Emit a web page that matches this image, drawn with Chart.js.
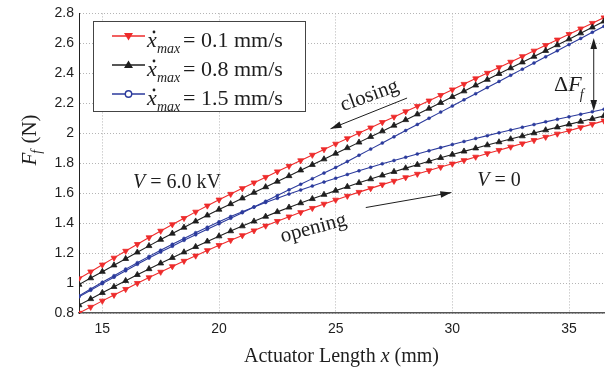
<!DOCTYPE html>
<html lang="en">
<head>
  <meta charset="UTF-8">
  <title>Friction force vs actuator length</title>
  <script src="https://cdn.jsdelivr.net/npm/chart.js"></script>
  <style>
    body {
      margin: 0;
      background: #ffffff;
    }
    canvas {
      display: block;
    }
  </style>
</head>
<body>
  <canvas id="frictionChart" width="611" height="371"></canvas>

  <script>
    // actuator length (mm), one sample every 0.5 mm
    const lengthMm = [14, 14.5, 15, 15.5, 16, 16.5, 17, 17.5, 18, 18.5, 19, 19.5, 20, 20.5, 21, 21.5,
      22, 22.5, 23, 23.5, 24, 24.5, 25, 25.5, 26, 26.5, 27, 27.5, 28, 28.5, 29, 29.5, 30, 30.5,
      31, 31.5, 32, 32.5, 33, 33.5, 34, 34.5, 35, 35.5, 36, 36.5];

    // friction force F_f (N), closing branch (V = 6.0 kV) and opening branch (V = 0)
    const closing01 = [1.030, 1.076, 1.122, 1.168, 1.214, 1.259, 1.304, 1.348, 1.391, 1.433, 1.475, 1.516,
      1.556, 1.594, 1.632, 1.670, 1.707, 1.744, 1.781, 1.818, 1.855, 1.892, 1.929, 1.965, 2.001, 2.037,
      2.073, 2.109, 2.145, 2.181, 2.217, 2.254, 2.291, 2.328, 2.365, 2.402, 2.439, 2.476, 2.513, 2.550,
      2.587, 2.624, 2.661, 2.698, 2.735, 2.772];
    const opening01 = [0.800, 0.840, 0.881, 0.920, 0.959, 0.999, 1.037, 1.074, 1.111, 1.147, 1.182, 1.218,
      1.252, 1.286, 1.318, 1.350, 1.382, 1.413, 1.443, 1.472, 1.500, 1.528, 1.555, 1.581, 1.607, 1.632,
      1.657, 1.681, 1.705, 1.728, 1.751, 1.774, 1.796, 1.819, 1.842, 1.865, 1.887, 1.909, 1.931, 1.953,
      1.975, 1.996, 2.017, 2.039, 2.061, 2.083];
    const closing08 = [0.990, 1.033, 1.076, 1.119, 1.162, 1.205, 1.248, 1.290, 1.331, 1.371, 1.412, 1.452,
      1.491, 1.528, 1.566, 1.604, 1.641, 1.678, 1.715, 1.753, 1.790, 1.827, 1.865, 1.902, 1.939, 1.977,
      2.014, 2.052, 2.089, 2.127, 2.165, 2.204, 2.243, 2.281, 2.320, 2.358, 2.397, 2.435, 2.474, 2.512,
      2.551, 2.589, 2.628, 2.668, 2.707, 2.747];
    const opening08 = [0.853, 0.894, 0.935, 0.975, 1.015, 1.055, 1.094, 1.132, 1.169, 1.206, 1.242, 1.278,
      1.313, 1.347, 1.380, 1.412, 1.444, 1.475, 1.505, 1.534, 1.562, 1.590, 1.617, 1.643, 1.669, 1.694,
      1.719, 1.743, 1.767, 1.790, 1.813, 1.836, 1.858, 1.879, 1.900, 1.921, 1.941, 1.961, 1.981, 2.001,
      2.021, 2.040, 2.059, 2.078, 2.097, 2.116];
    const closing15 = [0.908, 0.952, 0.996, 1.039, 1.082, 1.125, 1.167, 1.207, 1.246, 1.285, 1.322, 1.359,
      1.396, 1.433, 1.470, 1.508, 1.546, 1.584, 1.622, 1.659, 1.697, 1.734, 1.772, 1.812, 1.853, 1.894,
      1.935, 1.976, 2.018, 2.059, 2.100, 2.141, 2.182, 2.223, 2.264, 2.305, 2.346, 2.387, 2.428, 2.469,
      2.510, 2.551, 2.592, 2.633, 2.674, 2.714];
    const opening15 = [0.915, 0.960, 1.005, 1.049, 1.093, 1.136, 1.178, 1.219, 1.259, 1.298, 1.336, 1.373,
      1.409, 1.444, 1.476, 1.508, 1.538, 1.566, 1.594, 1.621, 1.648, 1.674, 1.700, 1.725, 1.749, 1.773,
      1.796, 1.818, 1.840, 1.862, 1.883, 1.904, 1.925, 1.945, 1.965, 1.984, 2.003, 2.022, 2.040, 2.058,
      2.076, 2.093, 2.110, 2.127, 2.144, 2.160];

    const speedLabels = ['0.1', '0.8', '1.5'];
    const xTicks = [15, 20, 25, 30, 35];
    const yTicks = [0.8, 1, 1.2, 1.4, 1.6, 1.8, 2, 2.2, 2.4, 2.6, 2.8];

    const RED = '#ee2b2b';
    const BLACK = '#1e1e1e';
    const BLUE = '#2b3a9c';
    const SERIF = '"Liberation Serif", "Times New Roman", serif';
    const SANS = '"Liberation Sans", Arial, sans-serif';

    function toPoints(values) {
      return values.map((v, i) => ({ x: lengthMm[i], y: v }));
    }

    function series(values, color, style) {
      const tri = style !== 'circle';
      return {
        data: toPoints(values),
        borderColor: color,
        backgroundColor: color,
        borderWidth: 1.1,
        pointStyle: tri ? 'triangle' : 'circle',
        pointRotation: style === 'down' ? 180 : 0,
        pointRadius: tri ? 3.4 : 1.5,
        pointBorderWidth: tri ? 0.8 : 0.5,
        tension: 0
      };
    }

    // text and arrows, anchored in data units
    const notes = {
      closing: { x: 26.45, y: 2.25, angle: -20 },
      closingArrow: { from: [28.06, 2.235], to: [24.78, 2.03] },
      opening: { x: 24.05, y: 1.365, angle: -15 },
      openingArrow: { from: [26.29, 1.504], to: [29.96, 1.604] },
      highV: { x: 18.2, y: 1.668 },
      zeroV: { x: 32.0, y: 1.684 },
      delta: { x: 34.95, y: 2.32 },
      deltaArrow: { x: 36.06, top: 2.636, bottom: 2.149 }
    };

    function arrowHead(ctx, x1, y1, x2, y2) {
      const a = Math.atan2(y2 - y1, x2 - x1);
      const len = 11, half = 3.3;
      ctx.beginPath();
      ctx.moveTo(x2, y2);
      ctx.lineTo(x2 - len * Math.cos(a) + half * Math.sin(a), y2 - len * Math.sin(a) - half * Math.cos(a));
      ctx.lineTo(x2 - len * Math.cos(a) - half * Math.sin(a), y2 - len * Math.sin(a) + half * Math.cos(a));
      ctx.closePath();
      ctx.fill();
    }

    function arrow(ctx, x1, y1, x2, y2) {
      ctx.beginPath();
      ctx.moveTo(x1, y1);
      ctx.lineTo(x2, y2);
      ctx.stroke();
      arrowHead(ctx, x1, y1, x2, y2);
    }

    const overlay = {
      id: 'overlay',
      afterDraw(chart) {
        const { ctx, chartArea } = chart;
        const sx = chart.scales.x, sy = chart.scales.y;
        const px = v => sx.getPixelForValue(v);
        const py = v => sy.getPixelForValue(v);

        ctx.save();
        ctx.fillStyle = BLACK;
        ctx.strokeStyle = BLACK;
        ctx.lineWidth = 1;
        ctx.textBaseline = 'alphabetic';

        // axis titles
        ctx.font = '20px ' + SERIF;
        const t1 = 'Actuator Length ', t3 = ' (mm)';
        const w1 = ctx.measureText(t1).width;
        const w3 = ctx.measureText(t3).width;
        ctx.font = 'italic 20px ' + SERIF;
        const w2 = ctx.measureText('x').width;
        let tx = (chartArea.left + chartArea.right) / 2 - (w1 + w2 + w3) / 2;
        ctx.font = '20px ' + SERIF;
        ctx.fillText(t1, tx, 362);
        ctx.font = 'italic 20px ' + SERIF;
        ctx.fillText('x', tx + w1, 362);
        ctx.font = '20px ' + SERIF;
        ctx.fillText(t3, tx + w1 + w2, 362);

        ctx.save();
        ctx.translate(36, 140);
        ctx.rotate(-Math.PI / 2);
        ctx.font = 'italic 21px ' + SERIF;
        const fw = ctx.measureText('F').width;
        ctx.font = 'italic 14px ' + SERIF;
        const sw = ctx.measureText('f').width;
        ctx.font = '21px ' + SERIF;
        const nw = ctx.measureText(' (N)').width;
        let yx = -(fw + sw + nw) / 2;
        ctx.font = 'italic 21px ' + SERIF;
        ctx.fillText('F', yx, 0);
        ctx.font = 'italic 14px ' + SERIF;
        ctx.fillText('f', yx + fw - 1, 5);
        ctx.font = '21px ' + SERIF;
        ctx.fillText(' (N)', yx + fw + sw, 0);
        ctx.restore();

        // legend
        const lx = 93, ly = 21, lw = 212, lh = 90;
        ctx.fillStyle = '#ffffff';
        ctx.fillRect(lx, ly, lw, lh);
        ctx.strokeStyle = '#444';
        ctx.strokeRect(lx + 0.5, ly + 0.5, lw, lh);
        const colors = [RED, BLACK, BLUE];
        speedLabels.forEach((lab, i) => {
          const ry = 36 + i * 29;
          ctx.strokeStyle = colors[i];
          ctx.fillStyle = colors[i];
          ctx.lineWidth = 1.6;
          ctx.beginPath();
          ctx.moveTo(112, ry);
          ctx.lineTo(145, ry);
          ctx.stroke();
          const mx = 128.5;
          ctx.beginPath();
          if (i === 0) {
            ctx.moveTo(mx - 4.5, ry - 3);
            ctx.lineTo(mx + 4.5, ry - 3);
            ctx.lineTo(mx, ry + 4.5);
            ctx.closePath();
            ctx.fill();
          } else if (i === 1) {
            ctx.moveTo(mx - 4.5, ry + 3);
            ctx.lineTo(mx + 4.5, ry + 3);
            ctx.lineTo(mx, ry - 4.5);
            ctx.closePath();
            ctx.fill();
          } else {
            ctx.arc(mx, ry, 3.2, 0, Math.PI * 2);
            ctx.fillStyle = '#fff';
            ctx.fill();
            ctx.lineWidth = 1.4;
            ctx.stroke();
          }
          ctx.fillStyle = BLACK;
          ctx.font = 'italic 22px ' + SERIF;
          ctx.fillText('x', 147, ry + 11);
          ctx.beginPath();
          ctx.arc(154, ry - 4, 1.4, 0, Math.PI * 2);
          ctx.fill();
          ctx.font = 'italic 14px ' + SERIF;
          ctx.fillText('max', 157, ry + 17);
          ctx.font = '22px ' + SERIF;
          ctx.fillText('= ' + lab + ' mm/s', 183, ry + 11);
        });

        // annotations
        ctx.fillStyle = BLACK;
        ctx.strokeStyle = BLACK;
        ctx.lineWidth = 1;
        ctx.textAlign = 'center';
        ctx.textBaseline = 'middle';
        ctx.font = '21px ' + SERIF;
        [['closing', notes.closing], ['opening', notes.opening]].forEach(([txt, n]) => {
          ctx.save();
          ctx.translate(px(n.x), py(n.y));
          ctx.rotate(n.angle * Math.PI / 180);
          ctx.fillText(txt, 0, 0);
          ctx.restore();
        });
        const ca = notes.closingArrow, oa = notes.openingArrow;
        arrow(ctx, px(ca.from[0]), py(ca.from[1]), px(ca.to[0]), py(ca.to[1]));
        arrow(ctx, px(oa.from[0]), py(oa.from[1]), px(oa.to[0]), py(oa.to[1]));

        function voltage(n, rest) {
          ctx.textAlign = 'left';
          ctx.font = 'italic 20px ' + SERIF;
          const vw = ctx.measureText('V').width;
          ctx.font = '20px ' + SERIF;
          const rw = ctx.measureText(rest).width;
          const x0 = px(n.x) - (vw + rw) / 2;
          ctx.font = 'italic 20px ' + SERIF;
          ctx.fillText('V', x0, py(n.y));
          ctx.font = '20px ' + SERIF;
          ctx.fillText(rest, x0 + vw, py(n.y));
        }
        voltage(notes.highV, ' = 6.0 kV');
        voltage(notes.zeroV, ' = 0');

        // delta F_f
        const d = notes.delta;
        ctx.textAlign = 'left';
        ctx.font = '22px ' + SERIF;
        const dw = ctx.measureText('\u0394').width;
        ctx.font = 'italic 22px ' + SERIF;
        const ffw = ctx.measureText('F').width;
        const dx0 = px(d.x) - (dw + ffw) / 2;
        ctx.font = '22px ' + SERIF;
        ctx.fillText('\u0394', dx0, py(d.y));
        ctx.font = 'italic 22px ' + SERIF;
        ctx.fillText('F', dx0 + dw, py(d.y));
        ctx.font = 'italic 14px ' + SERIF;
        ctx.fillText('f', dx0 + dw + ffw - 2, py(d.y) + 10);

        const da = notes.deltaArrow;
        const ax = px(da.x), ay1 = py(da.top), ay2 = py(da.bottom);
        ctx.beginPath();
        ctx.moveTo(ax, ay1 + 4);
        ctx.lineTo(ax, ay2 - 4);
        ctx.stroke();
        arrowHead(ctx, ax, (ay1 + ay2) / 2, ax, ay1);
        arrowHead(ctx, ax, (ay1 + ay2) / 2, ax, ay2);

        ctx.restore();
      }
    };

    const ctx = document.getElementById('frictionChart').getContext('2d');
    new Chart(ctx, {
      type: 'line',
      data: {
        datasets: [
          series(closing15, BLUE, 'circle'),
          series(opening15, BLUE, 'circle'),
          series(closing08, BLACK, 'up'),
          series(opening08, BLACK, 'up'),
          series(closing01, RED, 'down'),
          series(opening01, RED, 'down')
        ]
      },
      options: {
        responsive: false,
        animation: false,
        layout: { padding: { top: 12, right: 7, left: 0, bottom: 0 } },
        plugins: {
          legend: { display: false },
          tooltip: { enabled: false }
        },
        scales: {
          x: {
            type: 'linear',
            min: 14,
            max: 36.5,
            afterBuildTicks: axis => { axis.ticks = xTicks.map(v => ({ value: v })); },
            afterFit: axis => { axis.height = 58; },
            grid: { color: '#b5b5b5', lineWidth: 1, drawTicks: false },
            border: { display: true, color: '#555', width: 1.5, dash: [1, 2] },
            ticks: {
              padding: 8,
              color: BLACK,
              font: { family: SANS, size: 14 },
              maxRotation: 0
            }
          },
          y: {
            min: 0.8,
            max: 2.8,
            afterBuildTicks: axis => { axis.ticks = yTicks.map(v => ({ value: v })); },
            afterFit: axis => { axis.width = 79; },
            grid: { color: '#b5b5b5', lineWidth: 1, drawTicks: false },
            border: { display: true, color: '#222', width: 1, dash: [1, 2] },
            ticks: {
              padding: 5,
              color: BLACK,
              font: { family: SANS, size: 14 },
              callback: v => String(Number(v.toFixed(1)))
            }
          }
        }
      },
      plugins: [overlay]
    });
  </script>
</body>
</html>
